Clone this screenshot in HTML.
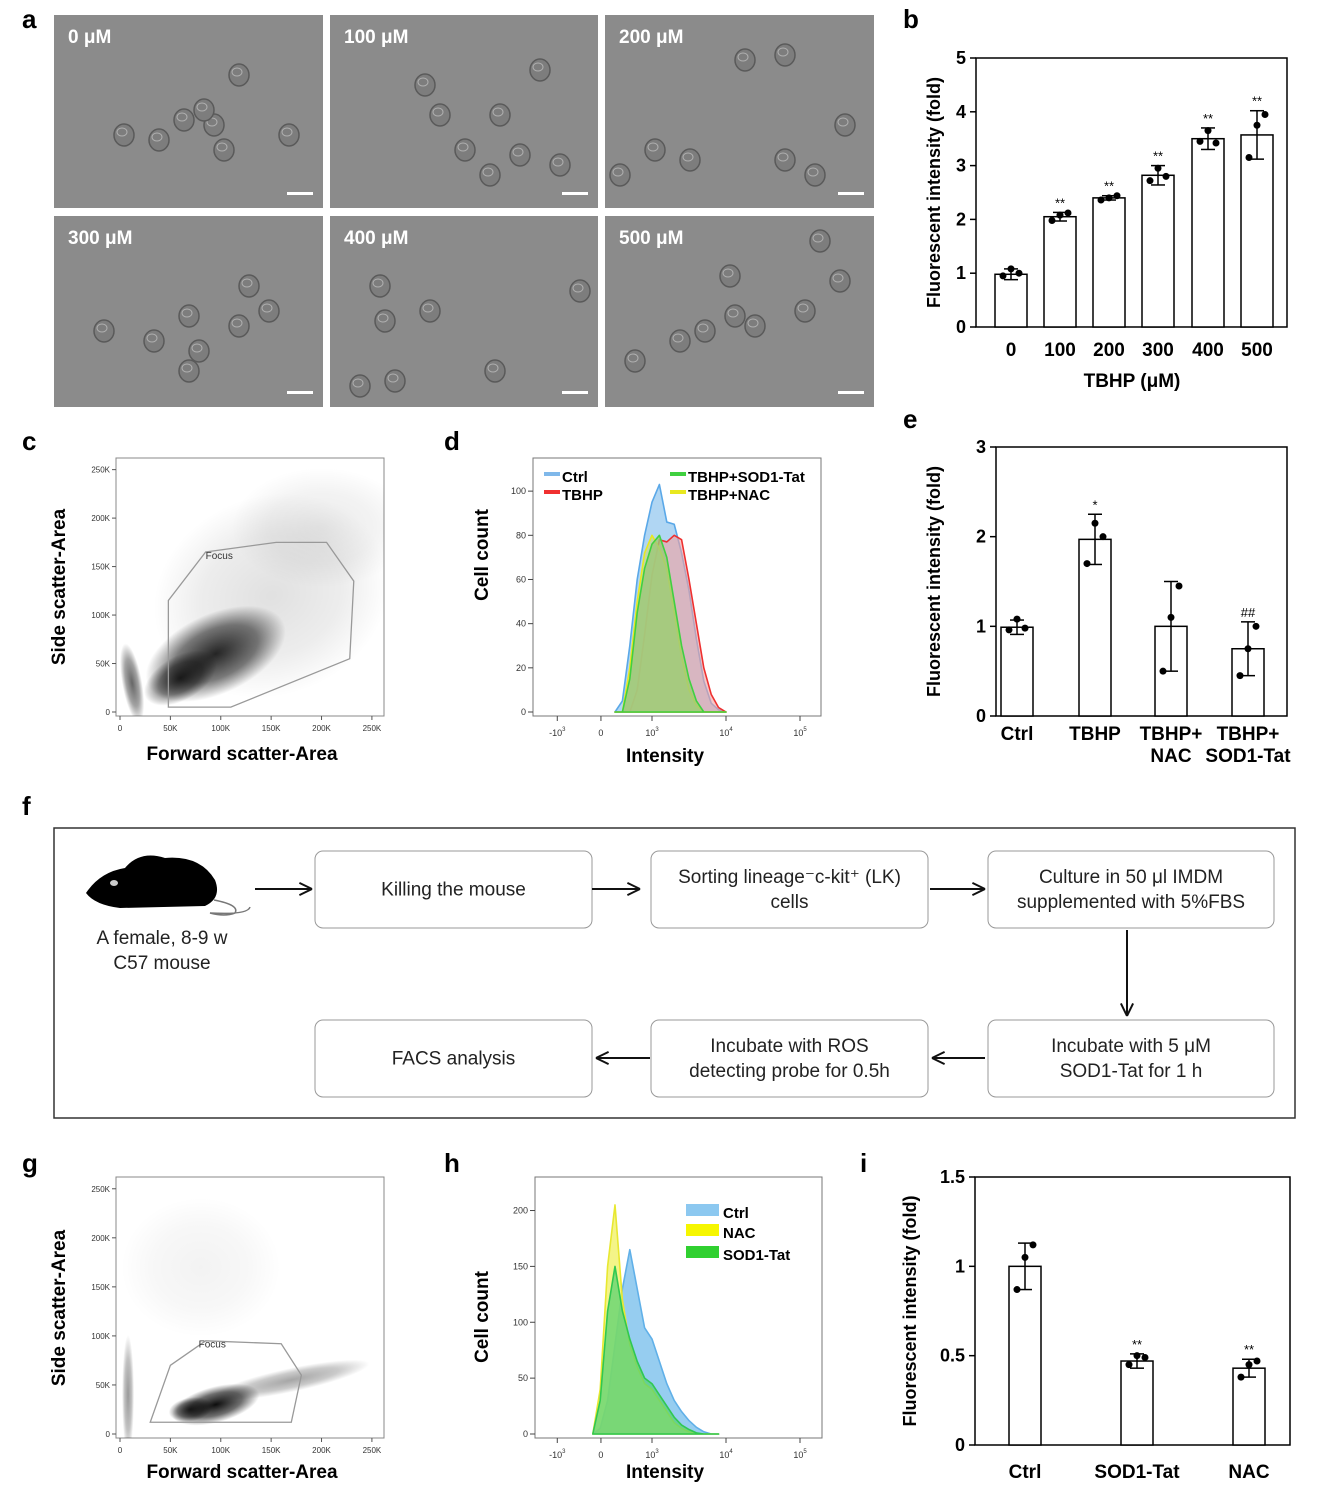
<!DOCTYPE html>
<html><head><meta charset="utf-8">
<style>
html,body{margin:0;padding:0;background:#fff;}
svg{display:block;font-family:"Liberation Sans",Arial,sans-serif;}
</style></head>
<body>
<svg id="fig" width="1318" height="1494" viewBox="0 0 1318 1494" xmlns="http://www.w3.org/2000/svg"></svg>
<script>
// ---------- DATA ----------
const bCats = ["0","100","200","300","400","500"];
const bVals = [0.98,2.05,2.40,2.82,3.50,3.57];
const bErr = [0.10,0.08,0.04,0.18,0.20,0.45];
const bDots = [[0.95,1.08,1.0],[1.98,2.08,2.12],[2.36,2.40,2.44],[2.72,2.95,2.80],[3.45,3.65,3.42],[3.15,3.75,3.95]];
const bStars = ["","**","**","**","**","**"];
const bTicks = [0,1,2,3,4,5];

const eCats = [["Ctrl"],["TBHP"],["TBHP+","NAC"],["TBHP+","SOD1-Tat"]];
const eVals = [0.99,1.97,1.00,0.75];
const eErr = [0.08,0.28,0.50,0.30];
const eDots = [[0.96,1.08,0.98],[1.7,2.15,2.0],[0.5,1.1,1.45],[0.45,0.75,1.0]];
const eStars = ["","*","","##"];
const eTicks = [0,1,2,3];

const iCats = ["Ctrl","SOD1-Tat","NAC"];
const iVals = [1.0,0.47,0.43];
const iErr = [0.13,0.04,0.05];
const iDots = [[0.87,1.05,1.12],[0.45,0.5,0.49],[0.38,0.45,0.47]];
const iStars = ["","**","**"];
const iTicks = [0,0.5,1,1.5];

const dX = [2.5,2.6,2.7,2.8,2.9,3.0,3.1,3.2,3.3,3.4,3.5,3.6,3.7,3.8,3.9,4.0];
const dCtrl = [0,5,30,60,80,95,103,86,85,72,55,33,14,4,1,0];
const dTBHP = [0,0,0,10,35,62,78,77,80,78,60,40,20,8,2,0];
const dSOD = [0,0,15,45,65,76,80,70,50,30,15,5,0,0,0,0];
const dNAC = [0,0,20,50,72,80,74,65,45,25,10,3,0,0,0,0];
const dYTicks = [0,20,40,60,80,100];

const hX = [2.2,2.3,2.4,2.5,2.6,2.7,2.8,2.9,3.0,3.1,3.2,3.3,3.4,3.5,3.6,3.7,3.8,3.9];
const hCtrl = [0,5,30,80,130,165,130,95,85,65,45,30,20,12,6,2,0,0];
const hNAC = [0,40,150,205,120,80,60,45,40,30,20,10,5,2,0,0,0,0];
const hSOD = [0,30,110,150,110,85,65,50,45,35,25,15,8,4,1,0,0,0];
const hYTicks = [0,50,100,150,200];
const histXTicks = [1.72,2.31,3,4,5];
const histXLabels = [["-10","3"],["0",""],["10","3"],["10","4"],["10","5"]];

const scatTicks = [0,50,100,150,200,250];

// ---------- HELPERS ----------
const NS="http://www.w3.org/2000/svg";
const svg=document.getElementById('fig');
function el(tag,attrs,parent,text){const e=document.createElementNS(NS,tag);for(const k in attrs)e.setAttribute(k,attrs[k]);if(text!==undefined)e.textContent=text;(parent||svg).appendChild(e);return e;}
function grp(name){const g=el('g',{});return g;}

function letter(t,x,y){const e=el('text',{x:x,y:y,'font-size':26,'font-weight':'bold'},svg,t);}

// ---------- PANEL A ----------
const pa=grp('panel-a-micrographs');
const imgs=[["0 μM",54,15],["100 μM",330,15],["200 μM",605,15],["300 μM",54,216],["400 μM",330,216],["500 μM",605,216]];
const cellSets=[
 [[130,105],[160,110],[150,95],[105,125],[185,60],[235,120],[290,95],[70,120],[170,135]],
 [[110,100],[170,100],[135,135],[190,140],[160,160],[210,55],[95,70],[230,150]],
 [[140,45],[180,40],[50,135],[85,145],[180,145],[210,160],[240,110],[15,160]],
 [[50,115],[100,125],[135,100],[145,135],[135,155],[185,110],[215,95],[195,70]],
 [[50,70],[55,105],[100,95],[65,165],[165,155],[250,75],[30,170]],
 [[215,25],[235,65],[200,95],[125,60],[130,100],[100,115],[150,110],[30,145],[75,125]]];
imgs.forEach((m,i)=>{
 const w=(i%3==1)?268:269, h=i<3?193:191;
 const r=el('rect',{x:m[1],y:m[2],width:w,height:h,fill:'#8b8b8b'},pa);
 
 cellSets[i].forEach(c=>{el('ellipse',{cx:m[1]+c[0],cy:m[2]+c[1],rx:10,ry:11,fill:'#7d7d7d',stroke:'#5a5a5a','stroke-width':1.5},pa);el('ellipse',{cx:m[1]+c[0]-2,cy:m[2]+c[1]-3,rx:5,ry:4,fill:'none',stroke:'#b0b0b0','stroke-width':1},pa);});
 const t=el('text',{x:m[1]+14,y:m[2]+28,'font-size':19,'font-weight':'bold',fill:'#fff'},pa,m[0]);
 
 el('rect',{x:m[1]+w-36,y:m[2]+h-16,width:26,height:3,fill:'#fff'},pa);
});
letter('a',22,28);

// ---------- BAR CHART ----------
function barChart(name,x0,y0,x1,y1,ymax,ticks,tickFmt,cats,vals,errs,dots,stars,centers,bw,title,titleX,labelY,tickFs){
 const g=grp(name);
 const Y=v=>y1-(v/ymax)*(y1-y0);
 el('rect',{x:x0,y:y0,width:x1-x0,height:y1-y0,fill:'none',stroke:'#000','stroke-width':1.5},g);
 ticks.forEach(t=>{el('line',{x1:x0-6,x2:x0,y1:Y(t),y2:Y(t),stroke:'#000','stroke-width':1.5},g);
  const tl=el('text',{x:x0-10,y:Y(t)+6,'font-size':tickFs,'font-weight':'bold','text-anchor':'end'},g,tickFmt(t));
  });
 vals.forEach((v,i)=>{const cx=centers[i];
  const b=el('rect',{x:cx-bw/2,y:Y(v),width:bw,height:y1-Y(v),fill:'#fff',stroke:'#000','stroke-width':1.5},g);
  
  el('line',{x1:cx,x2:cx,y1:Y(v-errs[i]),y2:Y(v+errs[i]),stroke:'#000','stroke-width':1.5},g);
  el('line',{x1:cx-7,x2:cx+7,y1:Y(v+errs[i]),y2:Y(v+errs[i]),stroke:'#000','stroke-width':1.5},g);
  el('line',{x1:cx-7,x2:cx+7,y1:Y(v-errs[i]),y2:Y(v-errs[i]),stroke:'#000','stroke-width':1.5},g);
  dots[i].forEach((d,j)=>{const p=el('circle',{cx:cx+(j-1)*8,cy:Y(d),r:3.5,fill:'#000'},g);});
  if(stars[i]){const s=el('text',{x:cx,y:Y(v+errs[i])-5,'font-size':13,'text-anchor':'middle'},g,stars[i]);}
  const lab=Array.isArray(cats[i])?cats[i]:[cats[i]];
  lab.forEach((l,k)=>{const t=el('text',{x:cx,y:labelY+k*22,'font-size':19,'font-weight':'bold','text-anchor':'middle'},g,l);});
 });
 const tt=el('text',{transform:`translate(${titleX},${(y0+y1)/2}) rotate(-90)`,'font-size':18,'font-weight':'bold','text-anchor':'middle'},g,title);
 
 return g;
}
const gb=barChart('panel-b-chart',976,58,1287,327,5,bTicks,t=>String(t),bCats,bVals,bErr,bDots,bStars,[1011,1060,1109,1158,1208,1257],32,'Fluorescent intensity (fold)',940,356,18);
const bx=el('text',{x:1132,y:387,'font-size':19,'font-weight':'bold','text-anchor':'middle'},gb,'TBHP (μM)');

letter('b',903,28);

barChart('panel-e-chart',996,447,1287,716,3,eTicks,t=>String(t),eCats,eVals,eErr,eDots,eStars,[1017,1095,1171,1248],32,'Fluorescent intensity (fold)',940,740,18);
letter('e',903,428);

barChart('panel-i-chart',975,1177,1290,1445,1.5,iTicks,t=>String(t),iCats,iVals,iErr,iDots,iStars,[1025,1137,1249],32,'Fluorescent intensity (fold)',916,1478,18);
letter('i',860,1172);

// ---------- SCATTER ----------
function scatter(name,x0,y0,x1,y1,clouds,gate,gateLabel){
 const g=grp(name);
 const defs=el('defs',{},g);
 const cp=el('clipPath',{id:name+'clip'},defs);
 el('rect',{x:x0,y:y0,width:x1-x0,height:y1-y0},cp);
 el('rect',{x:x0,y:y0,width:x1-x0,height:y1-y0,fill:'#fff',stroke:'#888','stroke-width':1},g);
 const X=v=>x0+4+v/262*(x1-x0-4), Y=v=>y1-4-v/262*(y1-y0-4);
 scatTicks.forEach(t=>{
  el('line',{x1:X(t),x2:X(t),y1:y1,y2:y1+4,stroke:'#555'},g);
  el('line',{x1:x0-4,x2:x0,y1:Y(t),y2:Y(t),stroke:'#555'},g);
  el('text',{x:X(t),y:y1+15,'font-size':8,'text-anchor':'middle',fill:'#333'},g,t?t+'K':'0');
  el('text',{x:x0-6,y:Y(t)+3,'font-size':8,'text-anchor':'end',fill:'#333'},g,t?t+'K':'0');
 });
 const cg=el('g',{'clip-path':`url(#${name}clip)`},g);
 clouds.forEach((c,i)=>{const id=name+'gr'+i;const rg=el('radialGradient',{id:id},defs);
  el('stop',{offset:'0%','stop-color':'#000','stop-opacity':c[5]},rg);el('stop',{offset:'60%','stop-color':'#000','stop-opacity':c[5]*0.6},rg);el('stop',{offset:'100%','stop-color':'#000','stop-opacity':0},rg);
  el('ellipse',{cx:X(c[0]),cy:Y(c[1]),rx:c[2],ry:c[3],transform:`rotate(${c[4]} ${X(c[0])} ${Y(c[1])})`,fill:`url(#${id})`},cg);});
 const p=el('polygon',{points:gate.map(q=>X(q[0])+','+Y(q[1])).join(' '),fill:'none',stroke:'#999','stroke-width':1.3},g);
 
 el('text',{x:X(gateLabel[0]),y:Y(gateLabel[1]),'font-size':10,fill:'#333'},g,'Focus');
 return {g,X,Y};
}
const sc=scatter('panel-c-scatter',116,458,384,716,
 [[95,60,75,40,-25,0.85],[60,35,40,22,-30,0.8],[12,30,10,40,-10,0.6],[150,120,120,100,-20,0.12],[200,190,90,60,0,0.08]],
 [[48,5],[48,115],[85,165],[155,175],[205,175],[232,135],[228,55],[110,5]],[85,158]);
letter('c',22,450);
const sg=scatter('panel-g-scatter',116,1177,384,1438,
 [[95,30,45,18,-15,0.95],[70,25,22,12,-10,0.8],[8,40,6,60,0,0.4],[170,55,80,12,-12,0.35],[80,170,80,70,0,0.05]],
 [[30,12],[50,70],[85,95],[160,92],[180,60],[170,12]],[78,88]);
letter('g',22,1172);
[[sc,'panel-c'],[sg,'panel-g']].forEach(([s,n],k)=>{
 const y=k?1478:760, yy=k?1308:587;
 const t1=el('text',{x:242,y:y,'font-size':19,'font-weight':'bold','text-anchor':'middle'},s.g,'Forward scatter-Area');
 const t2=el('text',{transform:`translate(65,${yy}) rotate(-90)`,'font-size':19,'font-weight':'bold','text-anchor':'middle'},s.g,'Side scatter-Area');
});

// ---------- HISTOGRAMS ----------
function hist(name,x0,y0,x1,y1,ymax,yTicks,xs,series,legend){
 const g=grp(name);
 el('rect',{x:x0,y:y0,width:x1-x0,height:y1-y0,fill:'#fff',stroke:'#777','stroke-width':1},g);
 const X=u=>652+(u-3)*74, Y=v=>y1-4-v/ymax*(y1-y0-4);
 yTicks.forEach(t=>{el('line',{x1:x0-5,x2:x0,y1:Y(t),y2:Y(t),stroke:'#444'},g);el('text',{x:x0-7,y:Y(t)+3,'font-size':9,'text-anchor':'end',fill:'#333'},g,String(t));});
 histXTicks.forEach((t,i)=>{el('line',{x1:X(t),x2:X(t),y1:y1,y2:y1+5,stroke:'#444'},g);
  const tx=el('text',{x:X(t),y:y1+20,'font-size':9,'text-anchor':'middle',fill:'#333'},g,histXLabels[i][0]);
  if(histXLabels[i][1])el('tspan',{dy:-5,'font-size':6},tx,histXLabels[i][1]);});
 series.forEach(s=>{let d='M'+X(xs[0])+','+Y(0);xs.forEach((u,i)=>d+=' L'+X(u)+','+Y(s.v[i]));d+=' L'+X(xs[xs.length-1])+','+Y(0)+'Z';
  const p=el('path',{d:d,fill:s.fill,'fill-opacity':s.op,stroke:s.stroke,'stroke-width':1.6,'stroke-linejoin':'round'},g);
  });
 legend.forEach((l,i)=>{const lg=el('g',{},g);
  el('rect',{x:l[1],y:l[2]-9,width:l[4]||16,height:l[4]?12:4,fill:l[3]},lg);
  el('text',{x:l[1]+(l[4]?l[4]+4:18),y:l[2]-(l[4]?-1:3)+4,'font-size':15,'font-weight':'bold'},lg,l[0]);});
 return g;
}
const gd=hist('panel-d-hist',533,458,821,716,115,dYTicks,dX,[
 {n:'ctrl',v:dCtrl,fill:'#8ec4ee',op:0.7,stroke:'#5aa8e8'},
 {n:'tbhp',v:dTBHP,fill:'#f4a0a0',op:0.6,stroke:'#ee3030'},
 {n:'nac',v:dNAC,fill:'#c8d890',op:0.8,stroke:'#e8e820'},
 {n:'sod1-tat',v:dSOD,fill:'#9cc878',op:0.8,stroke:'#40d040'}],
 [['Ctrl',544,481,'#7fb8ea'],['TBHP',544,499,'#f03030'],['TBHP+SOD1-Tat',670,481,'#40d040'],['TBHP+NAC',670,499,'#e8e820']]);
letter('d',444,450);
const gh=hist('panel-h-hist',535,1177,822,1438,230,hYTicks,hX,[
 {n:'ctrl',v:hCtrl,fill:'#7cc0ec',op:0.8,stroke:'#60b0e8'},
 {n:'nac',v:hNAC,fill:'#f0f060',op:0.75,stroke:'#e8e830'},
 {n:'sod1-tat',v:hSOD,fill:'#50d070',op:0.7,stroke:'#30c850'}],
 [['Ctrl',686,1213,'#8cc8f0',33],['NAC',686,1233,'#f6f600',33],['SOD1-Tat',686,1255,'#30d030',33]]);
letter('h',444,1172);
[[gd,762,555],[gh,1478,1317]].forEach(([g,y,yy])=>{
 const t1=el('text',{x:665,y:y,'font-size':19,'font-weight':'bold','text-anchor':'middle'},g,'Intensity');
 const t2=el('text',{transform:`translate(488,${yy}) rotate(-90)`,'font-size':19,'font-weight':'bold','text-anchor':'middle'},g,'Cell count');
});

// ---------- PANEL F FLOW ----------
letter('f',22,815);
const pf=grp('panel-f-workflow');
el('rect',{x:54,y:828,width:1241,height:290,fill:'#fff',stroke:'#333','stroke-width':1.5},pf);
const boxes=[[315,851,277,77,['Killing the mouse']],[651,851,277,77,['Sorting lineage⁻c-kit⁺ (LK)','cells']],[988,851,286,77,['Culture in 50 μl IMDM','supplemented with 5%FBS']],
 [315,1020,277,77,['FACS analysis']],[651,1020,277,77,['Incubate with ROS','detecting probe for 0.5h']],[988,1020,286,77,['Incubate with 5 μM','SOD1-Tat for 1 h']]];
boxes.forEach((b,i)=>{const bg=el('g',{},pf);
 el('rect',{x:b[0],y:b[1],width:b[2],height:b[3],rx:8,fill:'#fff',stroke:'#999','stroke-width':1},bg);
 const n=b[4].length;b[4].forEach((l,k)=>el('text',{x:b[0]+b[2]/2,y:b[1]+b[3]/2+6+(k-(n-1)/2)*25,'font-size':19,'text-anchor':'middle',fill:'#222'},bg,l));});
function arrow(x1,y1,x2,y2){const a=el('g',{},pf);
 el('line',{x1,y1,x2,y2,stroke:'#111','stroke-width':2},a);
 const ang=Math.atan2(y2-y1,x2-x1),L=14;
 [0.45,-0.45].forEach(s=>el('line',{x1:x2,y1:y2,x2:x2-L*Math.cos(ang+s),y2:y2-L*Math.sin(ang+s),stroke:'#111','stroke-width':2},a));}
arrow(255,889,312,889);arrow(592,889,640,889);arrow(930,889,985,889);arrow(1127,930,1127,1016);
arrow(985,1058,932,1058);arrow(650,1058,596,1058);
const mouse=el('g',{},pf);
el('path',{d:'M86,893 Q100,872 125,868 Q140,850 165,858 Q200,855 215,880 Q222,898 205,906 L120,908 Q95,905 86,893Z',fill:'#000'},mouse);
el('ellipse',{cx:114,cy:883,rx:4,ry:3,fill:'#ccc'},mouse);
el('path',{d:'M214,900 Q240,905 235,913 Q225,917 210,913 Q248,915 250,907',fill:'none',stroke:'#777','stroke-width':1.5},mouse);
el('text',{x:162,y:944,'font-size':19,'text-anchor':'middle',fill:'#222'},pf,'A female, 8-9 w');
el('text',{x:162,y:969,'font-size':19,'text-anchor':'middle',fill:'#222'},pf,'C57 mouse');
</script>
</body></html>
